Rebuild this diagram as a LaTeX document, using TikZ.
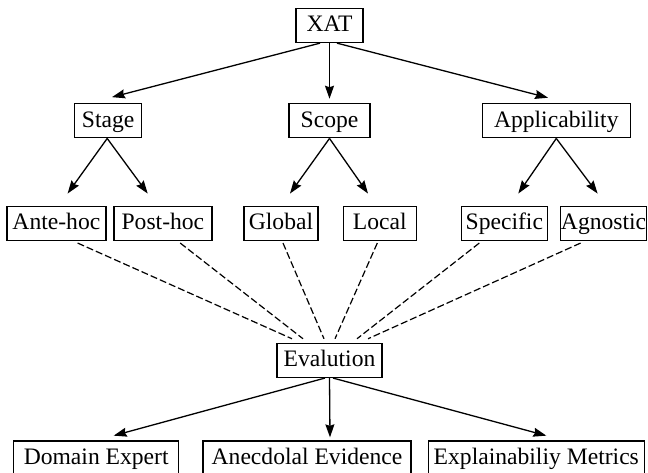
\documentclass[tikz,border=0pt]{standalone}
\usepackage{fontspec}
\setmainfont{Liberation Serif}
\usetikzlibrary{positioning, arrows.meta}
\tikzset{
node distance = 60pt and 20pt,
box/.style={
	draw,
	line width=1.3pt,
	inner xsep=0pt,
	inner ysep=0pt,
	text height=23.3pt,
	text depth=10.7pt,
	font=\fontsize{23.6}{28}\selectfont,
},
connection/.style={
	line width=1.3pt,
	-{Stealth[length=13pt, width=9pt, inset=1.5pt]},
},
link/.style={
	line width=1.2pt,
	dash pattern=on 7pt off 3pt,
},
}

\begin{document}
\begin{tikzpicture}
		\useasboundingbox (0,0) rectangle (648pt,-473pt);
		% Root
		\node[box, minimum width=67pt] (XAT) at (329.5pt,-25.5pt) {XAT};
		% Categories
		\node[box, minimum width=81pt, below = 60pt of XAT] (Scope) {Scope};
		\node[box, minimum width=67pt, left = 146pt of Scope] (Stage) {Stage};
		\node[box, minimum width=148pt, right = 111pt of Scope] (Appl) {Applicability};
		% Stage types
		\node[box, minimum width=98pt, below = 67.6pt of Stage, xshift=54.7pt] (Post) {Post-hoc};
		\node[box, minimum width=99pt, left = 6.7pt of Post] (Ante) {Ante-hoc};
		% Scope types
		\node[box, minimum width=74pt, below = 67.6pt of Scope, xshift=-48.5pt] (Global) {Global};
		\node[box, minimum width=73pt, right = 24pt of Global] (Local) {Local};
		% Applicability types
		\node[box, minimum width=86pt, below = 67.6pt of Appl, xshift=-52pt] (Spec) {Specific};
		\node[box, minimum width=86pt, right = 12pt of Spec] (Agn) {Agnostic};
		% Evaluation
		\node[box, minimum width=105pt, below = 204.3pt of Scope] (Eval) {Evalution};
		\node[box, minimum width=208pt, below = 62.3pt of Eval, xshift=-22.5pt] (Anec) {Anecdolal Evidence};
		\node[box, minimum width=165pt, left = 23pt of Anec] (DomExp) {Domain Expert};
		\node[box, minimum width=216pt, right = 16pt of Anec] (Metr) {Explainabiliy Metrics};
		
		% Connections
		
		% XAT ->
		\draw[connection] ([xshift=-9.5pt]XAT.south) -- ([xshift=3.8pt, yshift=6pt]Stage.north);
		\draw[connection] (XAT.south) -- ([yshift=4.4pt]Scope.north);
		\draw[connection] ([xshift=7.5pt]XAT.south) -- ([xshift=-8.3pt, yshift=5.4pt]Appl.north);
		
		% Stage ->
		\draw[connection] ([xshift=-1pt]Stage.south) -- ([xshift=11.2pt, yshift=12.5pt]Ante.north);
		\draw[connection] ([xshift=-1pt]Stage.south) -- ([xshift=-15.2pt, yshift=12.5pt]Post.north);
		
		% Scope ->
		\draw[connection] (Scope.south) -- ([xshift=9pt, yshift=12.5pt]Global.north);
		\draw[connection] (Scope.south) -- ([xshift=-11.8pt, yshift=12.5pt]Local.north);
		
		% Applicability ->
		\draw[connection] (Appl.south) -- ([xshift=14pt, yshift=12.5pt]Spec.north);
		\draw[connection] (Appl.south) -- ([xshift=-6pt, yshift=12.5pt]Agn.north);
		
		% -> Evalution
		\draw[link] ([xshift=21.2pt, yshift=-1.7pt]Ante.south) -- ([xshift=-37.5pt, yshift=4pt]Eval.north);
		\draw[link] ([xshift=17.3pt, yshift=-1.7pt]Post.south) -- ([xshift=-26.5pt, yshift=4pt]Eval.north);
		\draw[link] ([xshift=2pt, yshift=-1.7pt]Global.south) -- ([xshift=-5.5pt, yshift=4pt]Eval.north);
		\draw[link] ([xshift=-2.5pt, yshift=-1.7pt]Local.south) -- ([xshift=5.5pt, yshift=4pt]Eval.north);
		\draw[link] ([xshift=-25pt, yshift=-1.7pt]Spec.south) -- ([xshift=27.5pt, yshift=4pt]Eval.north);
		\draw[link] ([xshift=-23pt, yshift=-1.7pt]Agn.south) -- ([xshift=38.5pt, yshift=4pt]Eval.north);
		
		% Evalution ->
		\draw[connection] ([xshift=-4.5pt]Eval.south) -- ([xshift=17.5pt, yshift=4.7pt]DomExp.north);
		\draw[connection] (Eval.south) -- ([xshift=23pt, yshift=3pt]Anec.north);
		\draw[connection] ([xshift=3.5pt]Eval.south) -- ([xshift=10pt, yshift=4.7pt]Metr.north);
	\end{tikzpicture}
\end{document}
